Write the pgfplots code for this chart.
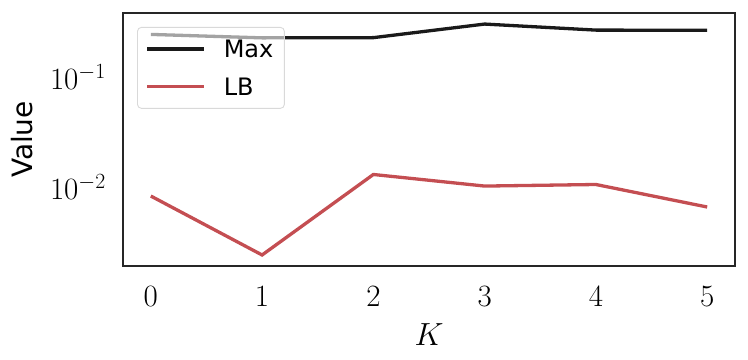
\RequirePackage{fix-cm}
\documentclass[border=0pt]{standalone}
\usepackage{fontspec}
\usepackage{pgfplots}
\pgfplotsset{compat=1.18}
\newfontfamily\dejavu{DejaVu Sans}
\definecolor{sbred}{HTML}{C44E52}
\definecolor{sbblack}{HTML}{1A1A1A}
\definecolor{spine}{HTML}{262626}
\begin{document}
\begin{tikzpicture}
\begin{axis}[
  name=ax,
  scale only axis,
  width=612pt, height=253pt,
  ymode=log,
  xmin=-0.25, xmax=5.25,
  ymin=0.001914, ymax=0.382,
  xtick={0,1,2,3,4,5},
  ytick={0.01,0.1},
  minor ytick={},
  tick style={draw=none},
  major tick length=0pt, minor tick length=0pt,
  axis line style={spine, line width=1.8pt},
  tick label style={font=\fontsize{31}{31}\selectfont},
  xticklabel style={anchor=north, inner sep=0pt, yshift=-20pt},
  yticklabel style={anchor=east, inner sep=0pt, xshift=-17pt},
  xlabel={$K$},
  ylabel={Value},
  xlabel style={at={(axis description cs:0.5,0)}, anchor=center, yshift=-69pt, font=\fontsize{32}{32}\selectfont},
  ylabel style={at={([xshift=-101pt]axis description cs:0,0.5)}, anchor=center, font=\dejavu\fontsize{28}{28}\selectfont},
  legend image code/.code={\draw[#1] (0pt,0pt) -- (57pt,0pt);},
  legend cell align=left,
  legend style={at={(rel axis cs:0.0229,0.945)}, anchor=north west,
    fill=white, fill opacity=0.6, draw opacity=1, text opacity=1,
    draw=black!15, line width=0.9pt, rounded corners=4pt,
    font=\dejavu\fontsize{24}{24}\selectfont,
    inner xsep=8pt, inner ysep=10pt, row sep=14pt,
    nodes={inner sep=3pt, text depth=0pt},
    /tikz/every odd column/.append style={column sep=15pt}},
]
\addplot[sbblack, line width=3.3pt] coordinates {(0,0.244) (1,0.227) (2,0.228) (3,0.303) (4,0.267) (5,0.266)};
\addlegendentry{Max}
\addplot[sbred, line width=3.3pt] coordinates {(0,0.00828) (1,0.00241) (2,0.0130) (3,0.0102) (4,0.01054) (5,0.00658)};
\addlegendentry{LB}
\end{axis}
\path ([shift={(-123pt,-94pt)}]ax.south west) rectangle ([shift={(13pt,13pt)}]ax.north east);
\end{tikzpicture}
\end{document}
